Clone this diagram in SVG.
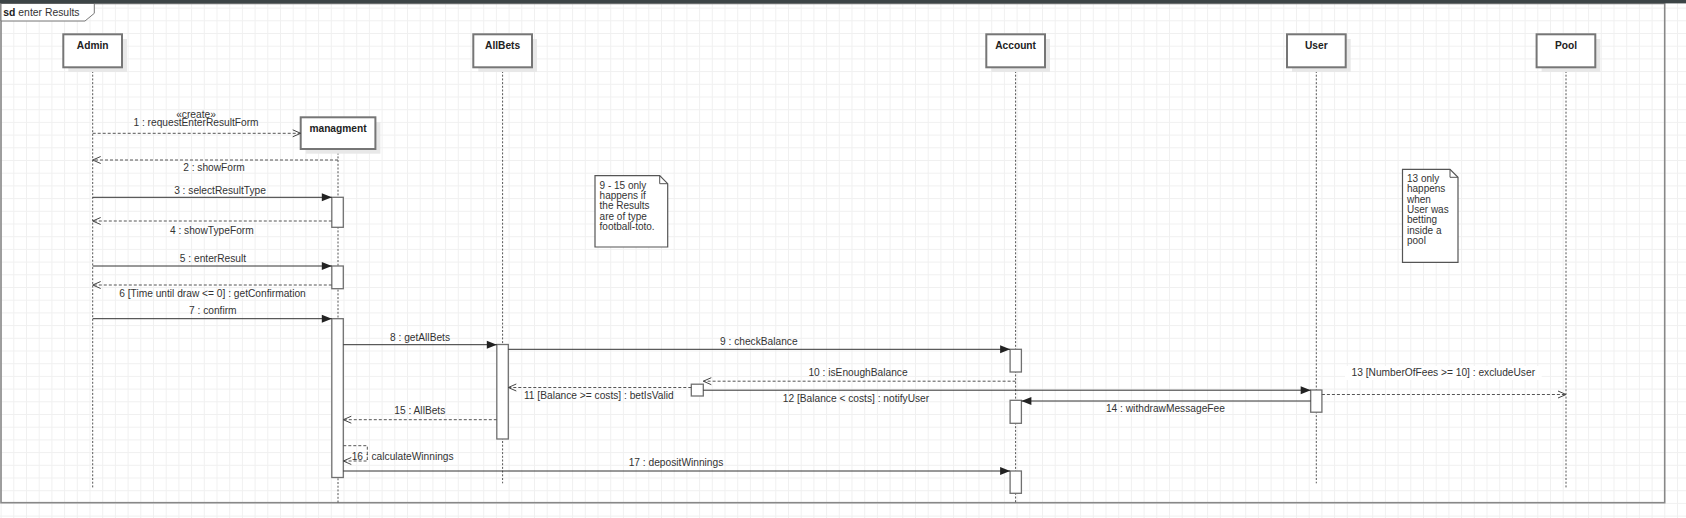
<svg xmlns="http://www.w3.org/2000/svg" width="1686" height="518" viewBox="0 0 1686 518">
<style>
text{font-family:"Liberation Sans",Arial,sans-serif;fill:#333;}
.lbl{font-size:10.2px;text-anchor:middle;}
.name{font-size:10.2px;font-weight:bold;text-anchor:middle;fill:#222;}
.note{font-size:10px;fill:#333;}
.box{fill:#fff;stroke:#767676;stroke-width:2;}
.shadow{fill:#e8e8e8;}
.life{stroke:#555;stroke-width:1;stroke-dasharray:2,1.7;fill:none;}
.act{fill:#fff;stroke:#707070;stroke-width:1.3;}
.sync{stroke:#333;stroke-width:1;fill:none;marker-end:url(#filled);}
.ret{stroke:#555;stroke-width:1;stroke-dasharray:3,2;fill:none;marker-end:url(#open);}
.notebox{fill:#fff;stroke:#555;stroke-width:1.2;}
</style>
<defs>
<pattern id="grid" width="12.7" height="12.7" patternUnits="userSpaceOnUse" x="0.6" y="7.6">
<path d="M0,0.5 H12.7 M0.5,0 V12.7" stroke="#f0f0f0" stroke-width="1" fill="none"/>
</pattern>
<marker id="filled" markerUnits="userSpaceOnUse" markerWidth="10" markerHeight="8" refX="10" refY="4" orient="auto" overflow="visible">
<path d="M0,0 L10,4 L0,8 Z" fill="#222" stroke="none"/>
</marker>
<marker id="open" markerUnits="userSpaceOnUse" markerWidth="9" markerHeight="8" refX="8" refY="3.5" orient="auto" overflow="visible">
<path d="M0,0 L8,3.5 L0,7" fill="none" stroke="#444" stroke-width="1" stroke-dasharray="none"/>
</marker>
</defs>

<rect x="0" y="0" width="1686" height="518" fill="#fff"/>
<rect x="0" y="0" width="1686" height="518" fill="url(#grid)"/>

<g id="frame">
<rect x="1" y="3.5" width="1663.7" height="499.2" fill="none" stroke="#888" stroke-width="1.6"/>
<path d="M1,3.5 H94.3 V13.3 L85,21 H1 Z" fill="#fff" stroke="#777" stroke-width="1"/>
<text x="3.3" y="15.7" style="font-size:10.4px"><tspan font-weight="bold" fill="#222">sd</tspan> enter Results</text>
</g>
<rect x="0" y="0" width="1686" height="3.4" fill="#3c4446"/>

<g id="lifelines">
<line class="life" x1="92.7" y1="67.3" x2="92.7" y2="488.3"/>
<line class="life" x1="338" y1="149" x2="338" y2="502.7"/>
<line class="life" x1="502.6" y1="67.3" x2="502.6" y2="483.3"/>
<line class="life" x1="1015.6" y1="67.3" x2="1015.6" y2="502.7"/>
<line class="life" x1="1316.3" y1="67.3" x2="1316.3" y2="483.3"/>
<line class="life" x1="1566" y1="67.3" x2="1566" y2="488.3"/>
</g>

<g id="node-admin">
<rect class="shadow" x="68.3" y="39" width="58.7" height="33"/>
<rect class="box" x="63.3" y="34.3" width="58.7" height="33"/>
<text class="name" x="92.7" y="49.3">Admin</text>
</g>
<g id="node-allbets">
<rect class="shadow" x="478.3" y="39" width="58.7" height="33"/>
<rect class="box" x="473.3" y="34.3" width="58.7" height="33"/>
<text class="name" x="502.6" y="49.3">AllBets</text>
</g>
<g id="node-account">
<rect class="shadow" x="991.3" y="39" width="58.7" height="33"/>
<rect class="box" x="986.3" y="34.3" width="58.7" height="33"/>
<text class="name" x="1015.6" y="49.3">Account</text>
</g>
<g id="node-user">
<rect class="shadow" x="1292" y="39" width="58.7" height="33"/>
<rect class="box" x="1287" y="34.3" width="58.7" height="33"/>
<text class="name" x="1316.3" y="49.3">User</text>
</g>
<g id="node-pool">
<rect class="shadow" x="1541.6" y="39" width="58.7" height="33"/>
<rect class="box" x="1536.6" y="34.3" width="58.7" height="33"/>
<text class="name" x="1566" y="49.3">Pool</text>
</g>
<g id="node-managment">
<rect class="shadow" x="305.7" y="122" width="74.7" height="31.7"/>
<rect class="box" x="300.7" y="117.3" width="74.7" height="31.7"/>
<text class="name" x="338" y="131.6">managment</text>
</g>

<g id="activations">
<rect class="act" x="331.8" y="197.3" width="11.5" height="30"/>
<rect class="act" x="331.8" y="266" width="11.5" height="22.7"/>
<rect class="act" x="331.8" y="318.7" width="11.5" height="158.8"/>
<rect class="act" x="496.8" y="344.5" width="11.5" height="94.5"/>
<rect class="act" x="1010.1" y="349.3" width="11.3" height="22.7"/>
<rect class="act" x="1010.1" y="400.3" width="11.3" height="23"/>
<rect class="act" x="1010.1" y="471" width="11.3" height="22.3"/>
<rect class="act" x="1310.7" y="390" width="11.2" height="22.2"/>
<rect class="act" x="691.3" y="384.2" width="12" height="11.8"/>
</g>

<g id="notes">
<g id="note-1">
<path class="notebox" d="M595,175.7 H659.7 L667.7,183.7 V247 H595 Z"/>
<path d="M659.7,175.7 V183.7 H667.7" fill="none" stroke="#555" stroke-width="1"/>
<text class="note" x="599.6" y="188.5">9 - 15 only</text>
<text class="note" x="599.6" y="198.9">happens if</text>
<text class="note" x="599.6" y="209.3">the Results</text>
<text class="note" x="599.6" y="219.7">are of type</text>
<text class="note" x="599.6" y="230.1">football-toto.</text>
</g>
<g id="note-2">
<path class="notebox" d="M1402.5,169.3 H1450 L1458,177.3 V262.3 H1402.5 Z"/>
<path d="M1450,169.3 V177.3 H1458" fill="none" stroke="#555" stroke-width="1"/>
<text class="note" x="1407" y="181.8">13 only</text>
<text class="note" x="1407" y="192.2">happens</text>
<text class="note" x="1407" y="202.6">when</text>
<text class="note" x="1407" y="213">User was</text>
<text class="note" x="1407" y="223.4">betting</text>
<text class="note" x="1407" y="233.8">inside a</text>
<text class="note" x="1407" y="244.2">pool</text>
</g>
</g>

<g id="connectors">
<line class="ret" x1="92.7" y1="133.3" x2="300.7" y2="133.3"/>
<text class="lbl" x="196" y="117.6">«create»</text>
<text class="lbl" x="196" y="126.3">1 : requestEnterResultForm</text>

<line class="ret" x1="338" y1="160" x2="92.7" y2="160"/>
<text class="lbl" x="214" y="171.3">2 : showForm</text>

<line class="sync" x1="92.7" y1="197.3" x2="331.8" y2="197.3"/>
<text class="lbl" x="220" y="193.6">3 : selectResultType</text>

<line class="ret" x1="331.8" y1="221" x2="92.7" y2="221"/>
<text class="lbl" x="211.8" y="233.6">4 : showTypeForm</text>

<line class="sync" x1="92.7" y1="266" x2="331.8" y2="266"/>
<text class="lbl" x="213" y="262">5 : enterResult</text>

<line class="ret" x1="331.8" y1="285" x2="92.7" y2="285"/>
<text class="lbl" x="212.5" y="297.3">6 [Time until draw &lt;= 0] : getConfirmation</text>

<line class="sync" x1="92.7" y1="318.7" x2="331.8" y2="318.7"/>
<text class="lbl" x="212.8" y="314.3">7 : confirm</text>

<line class="sync" x1="343.3" y1="344.7" x2="496.8" y2="344.7"/>
<text class="lbl" x="420" y="340.6">8 : getAllBets</text>

<line class="sync" x1="508.3" y1="349.3" x2="1010.1" y2="349.3"/>
<text class="lbl" x="758.8" y="345.3">9 : checkBalance</text>

<line class="ret" x1="1015.6" y1="381.2" x2="703.3" y2="381.2"/>
<text class="lbl" x="858" y="376.3">10 : isEnoughBalance</text>

<line class="ret" x1="691.3" y1="387.5" x2="508.3" y2="387.5"/>
<text class="lbl" x="598.8" y="399.3">11 [Balance &gt;= costs] : betIsValid</text>

<line class="sync" x1="703.3" y1="390.2" x2="1310.7" y2="390.2"/>
<text class="lbl" x="856" y="402.3">12 [Balance &lt; costs] : notifyUser</text>

<rect x="1345" y="366" width="196.7" height="14" fill="#fff"/>
<line class="ret" x1="1321.9" y1="394.5" x2="1566" y2="394.5"/>
<text class="lbl" x="1443.3" y="376">13 [NumberOfFees &gt;= 10] : excludeUser</text>

<line class="sync" x1="1310.7" y1="401" x2="1021.4" y2="401"/>
<text class="lbl" x="1165.4" y="412.3">14 : withdrawMessageFee</text>

<line class="ret" x1="496.8" y1="419.7" x2="343.3" y2="419.7"/>
<text class="lbl" x="419.8" y="414.3">15 : AllBets</text>

<path class="ret" d="M343.3,445.7 H367.3 V461 H343.3"/>
<text class="lbl" x="351.7" y="460.3" style="text-anchor:start">16 : calculateWinnings</text>

<line class="sync" x1="343.3" y1="471" x2="1010.1" y2="471"/>
<text class="lbl" x="676" y="466.3">17 : depositWinnings</text>
</g>
</svg>
